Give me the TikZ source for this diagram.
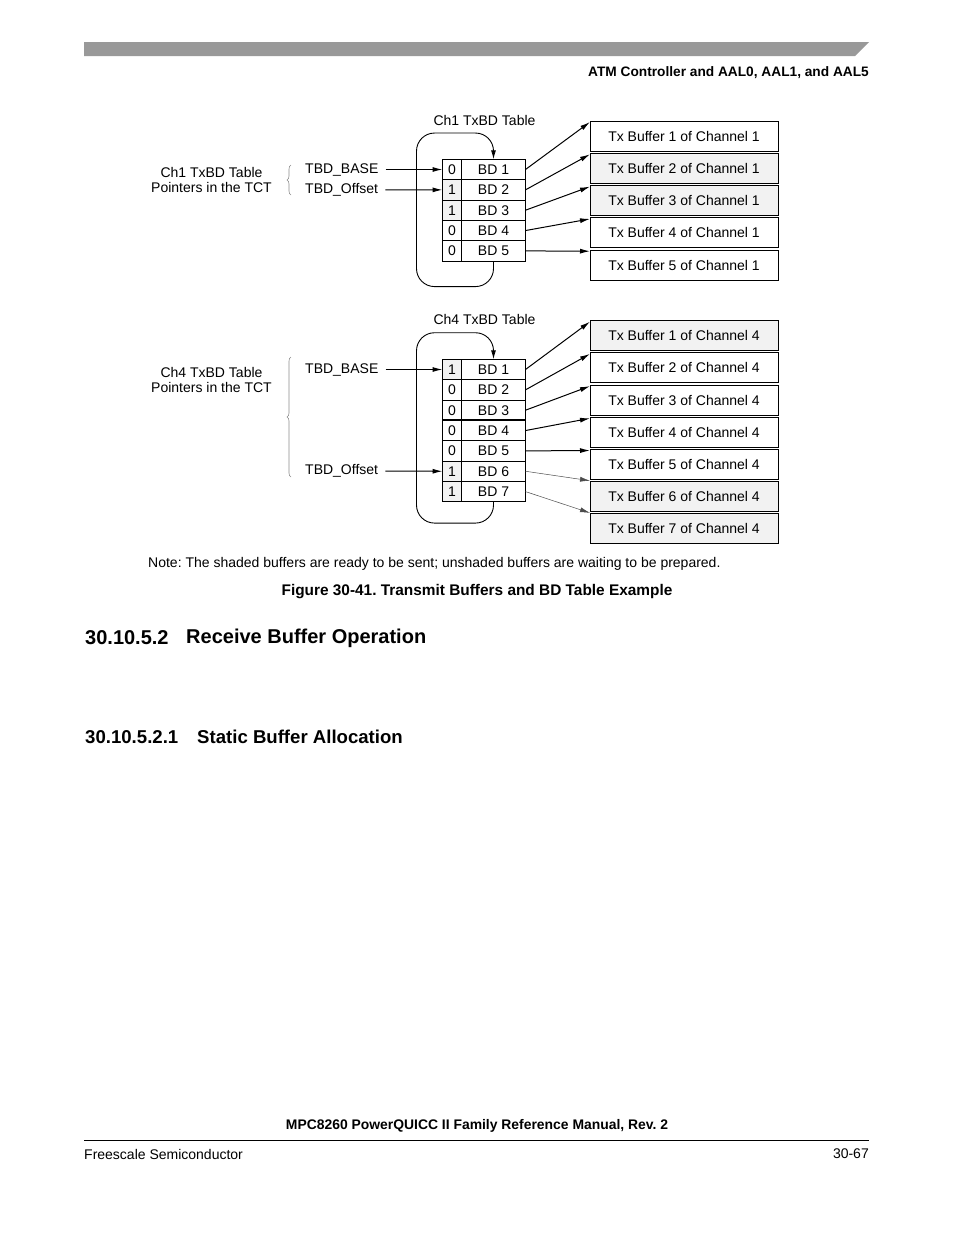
\documentclass[tikz,border=0pt]{standalone}
\usepackage{fontspec}
\setmainfont{Liberation Sans}
\usetikzlibrary{arrows.meta, positioning, decorations.pathreplacing}
\definecolor{shade}{RGB}{242,242,242}
\definecolor{bargray}{RGB}{153,153,153}
\frenchspacing

\begin{document}
\begin{tikzpicture}[x=1pt, y=-1pt,
    txt/.style={font=\fontsize{14}{15.5}\selectfont, inner sep=0pt},
    bit/.style={draw, line width=0.9pt, minimum width=19pt, minimum height=20.35pt,
      inner sep=0pt, outer sep=0pt, font=\fontsize{14}{15}\selectfont},
    bd/.style={bit, minimum width=64pt},
    buf/.style={draw, line width=0.9pt, minimum width=188pt, minimum height=30pt,
      inner sep=0pt, outer sep=0pt, font=\fontsize{14}{15}\selectfont},
    ptr/.style={-{Latex[length=10pt,width=5pt]}, line width=1pt},
    faint/.style={-{Latex[length=10pt,width=5pt]}, line width=0.5pt, black!70},
    loopline/.style={-{Latex[length=9pt,width=5pt]}, line width=0.9pt, rounded corners=18pt},
    brace/.style={decorate, decoration={brace, amplitude=4pt}, black!45, line width=0.6pt}]
  \useasboundingbox (0,0) rectangle (954,1235);

  % 1. 頁首與頁尾
  \fill[bargray] (84,42) -- (869,42) -- (855,56) -- (84,56) -- cycle;
  \node[txt, anchor=east, font=\fontsize{13.7}{15}\selectfont\bfseries] (head) at (869,73)
    {ATM Controller and AAL0, AAL1, and AAL5};
  \node[txt, font=\fontsize{13.9}{15}\selectfont\bfseries] (manual) at (477,1126)
    {MPC8260 PowerQUICC II Family Reference Manual, Rev. 2};
  \draw[line width=0.9pt] (84,1140) -- (869,1140);
  \node[txt, anchor=west] (vendor) at (84,1154) {Freescale Semiconductor};
  \node[txt, anchor=east] (page) at (869,1154) {30-67};

  % 2. Ch1 的 BD 表
  \node[bd] (d1) at (493.5,169.5) {BD 1};
  \node[bd, below=0pt of d1] (d2) {BD 2};
  \node[bd, below=0pt of d2] (d3) {BD 3};
  \node[bd, below=0pt of d3] (d4) {BD 4};
  \node[bd, below=0pt of d4] (d5) {BD 5};
  \node[bit, left=0pt of d1] (b1) {0};
  \node[bit, fill=shade, left=0pt of d2] (b2) {1};
  \node[bit, fill=shade, left=0pt of d3] (b3) {1};
  \node[bit, left=0pt of d4] (b4) {0};
  \node[bit, left=0pt of d5] (b5) {0};
  \node[txt] (ttl1) at (484.5,120) {Ch1 TxBD Table};
  \node[txt, align=center] (tct1) at (211.5,180) {Ch1 TxBD Table\\Pointers in the TCT};
  \draw[brace] (291,195) -- (291,165);
  \node[txt, anchor=west] (base1) at (305,169.5) {TBD\_BASE};
  \node[txt, anchor=west] (off1) at (305,189.9) {TBD\_Offset};

  % 3. Ch1 的緩衝區
  \node[buf] (t1) at (684,136) {Tx Buffer 1 of Channel 1};
  \node[buf, fill=shade, below=2.3pt of t1] (t2) {Tx Buffer 2 of Channel 1};
  \node[buf, fill=shade, below=2.3pt of t2] (t3) {Tx Buffer 3 of Channel 1};
  \node[buf, below=2.3pt of t3] (t4) {Tx Buffer 4 of Channel 1};
  \node[buf, below=2.3pt of t4] (t5) {Tx Buffer 5 of Channel 1};

  % 4. Ch1 的箭頭
  \draw[ptr] ([xshift=7pt]base1.east) -- (b1.west);
  \draw[ptr] ([xshift=7pt]off1.east) -- (b2.west);
  \draw[ptr] (d1.east) -- ([yshift=-1pt]t1.north west);
  \draw[ptr] (d2.east) -- ([yshift=-1pt]t2.north west);
  \draw[ptr] (d3.east) -- ([yshift=-1pt]t3.north west);
  \draw[ptr] (d4.east) -- ([yshift=-1pt]t4.north west);
  \draw[ptr] (d5.east) -- ([yshift=-1pt]t5.north west);
  \draw[loopline] (d5.south) -- ++(0,25.5) -- ++(-77,0) |- ([yshift=26.3pt]d1.north) -- (d1.north);

  % 5. Ch4 的 BD 表
  \node[bd] (e1) at (493.5,369.5) {BD 1};
  \node[bd, below=0pt of e1] (e2) {BD 2};
  \node[bd, below=0pt of e2] (e3) {BD 3};
  \node[bd, below=0pt of e3] (e4) {BD 4};
  \node[bd, below=0pt of e4] (e5) {BD 5};
  \node[bd, below=0pt of e5] (e6) {BD 6};
  \node[bd, below=0pt of e6] (e7) {BD 7};
  \node[bit, fill=shade, left=0pt of e1] (c1) {1};
  \node[bit, left=0pt of e2] (c2) {0};
  \node[bit, left=0pt of e3] (c3) {0};
  \node[bit, left=0pt of e4] (c4) {0};
  \node[bit, left=0pt of e5] (c5) {0};
  \node[bit, fill=shade, left=0pt of e6] (c6) {1};
  \node[bit, fill=shade, left=0pt of e7] (c7) {1};
  \draw[line width=1.8pt] (c4.north west) -- (e4.north east);
  \draw[line width=1.8pt] (c7.north west) -- (e7.north east);
  \node[txt] (ttl4) at (484.5,319) {Ch4 TxBD Table};
  \node[txt, align=center] (tct4) at (211.5,380) {Ch4 TxBD Table\\Pointers in the TCT};
  \draw[brace] (291,477) -- (291,357);
  \node[txt, anchor=west] (base4) at (305,369.5) {TBD\_BASE};
  \node[txt, anchor=west] (off4) at (305,471.2) {TBD\_Offset};

  % 6. Ch4 的緩衝區
  \node[buf, fill=shade] (u1) at (684,335.7) {Tx Buffer 1 of Channel 4};
  \node[buf, below=2.2pt of u1] (u2) {Tx Buffer 2 of Channel 4};
  \node[buf, below=2.2pt of u2] (u3) {Tx Buffer 3 of Channel 4};
  \node[buf, below=2.2pt of u3] (u4) {Tx Buffer 4 of Channel 4};
  \node[buf, below=2.2pt of u4] (u5) {Tx Buffer 5 of Channel 4};
  \node[buf, fill=shade, below=2.2pt of u5] (u6) {Tx Buffer 6 of Channel 4};
  \node[buf, fill=shade, below=2.2pt of u6] (u7) {Tx Buffer 7 of Channel 4};

  % 7. Ch4 的箭頭
  \draw[ptr] ([xshift=7pt]base4.east) -- (c1.west);
  \draw[ptr] ([xshift=7pt]off4.east) -- (c6.west);
  \draw[ptr] (e1.east) -- ([yshift=-1pt]u1.north west);
  \draw[ptr] (e2.east) -- ([yshift=-1pt]u2.north west);
  \draw[ptr] (e3.east) -- ([yshift=-1pt]u3.north west);
  \draw[ptr] (e4.east) -- ([yshift=-1pt]u4.north west);
  \draw[ptr] (e5.east) -- ([yshift=-1pt]u5.north west);
  \draw[faint] (e6.east) -- ([yshift=1pt]u6.north west);
  \draw[faint] (e7.east) -- ([yshift=1pt]u7.north west);
  \draw[loopline] (e7.south) -- ++(0,21.3) -- ++(-77,0) |- ([yshift=26.6pt]e1.north) -- (e1.north);

  % 8. 說明與標題
  \node[txt, anchor=west] (note) at (148,564)
    {Note: The shaded buffers are ready to be sent; unshaded buffers are waiting to be prepared.};
  \node[txt, font=\fontsize{15.4}{17}\selectfont\bfseries] (cap) at (477,592)
    {Figure 30-41. Transmit Buffers and BD Table Example};
  \node[txt, anchor=west, font=\fontsize{20}{22}\selectfont\bfseries] (secnum) at (85,638) {30.10.5.2};
  \node[txt, anchor=west, font=\fontsize{20}{22}\selectfont\bfseries] (sec) at (186,638) {Receive Buffer Operation};
  \node[txt, anchor=west, font=\fontsize{18.6}{20}\selectfont\bfseries] (subnum) at (85,737) {30.10.5.2.1};
  \node[txt, anchor=west, font=\fontsize{18.6}{20}\selectfont\bfseries] (sub) at (197,737) {Static Buffer Allocation};
\end{tikzpicture}
\end{document}
